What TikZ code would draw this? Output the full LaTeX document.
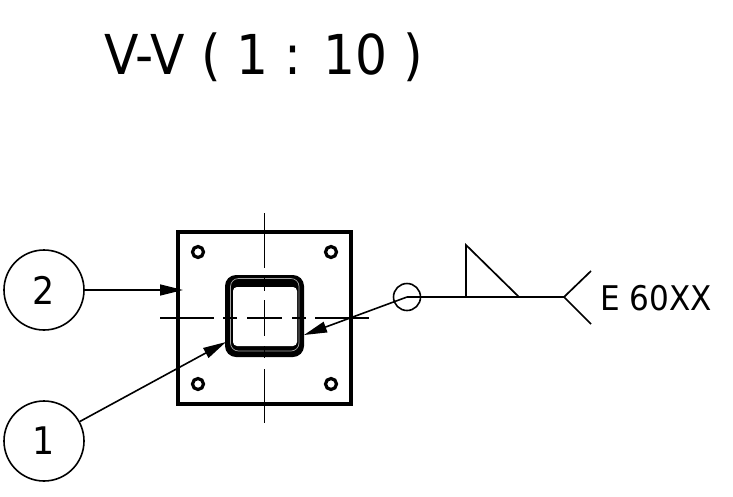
\documentclass[tikz,border=0pt]{standalone}
\usepackage{fontspec}
\setmainfont[FakeStretch=0.915]{DejaVu Sans}
\usetikzlibrary{arrows.meta}
\tikzset{
  x=1pt,y=-1pt,
  balloon/.style={draw,circle,line width=1.6pt,minimum size=80pt,inner sep=0pt,font=\fontsize{38}{38}\selectfont},
  leader/.style={line width=1.6pt,-{Triangle[length=23pt,width=11pt]}},
  plate/.style={line width=3.2pt},
  hole/.style={draw,circle,line width=3.2pt,minimum size=11pt,inner sep=0pt},
  centerline/.style={line width=1.4pt},
  weld/.style={line width=1.7pt},
  label/.style={inner sep=0pt,anchor=west}
}
\begin{document}
\begin{tikzpicture}
\useasboundingbox (0,0) rectangle (733,496);
% title
\node[label,font=\fontsize{55}{55}\selectfont] (title) at (104,57.5) {V-V ( 1 : 10 )};
% plate
\draw[plate] (178,232) rectangle (351,404);
\node[hole] (h1) at (198,252) {};
\node[hole] (h2) at (331,252) {};
\node[hole] (h3) at (198,384) {};
\node[hole] (h4) at (331,384) {};
% tube
\fill[rounded corners=11pt] (225,275) rectangle (304,357);
\fill[white,rounded corners=4pt] (233,287) rectangle (297,346);
\draw[gray!70,line width=.7pt,rounded corners=8pt] (230.5,278.5) rectangle (299,351);
% centre lines
\foreach \a/\b in {160/214,223/237,247/282,292/306,315/369}
  \draw[centerline] (\a,318) -- (\b,318);
\foreach \a/\b in {213/268,277/291,300/336,346/358,369/423}
  \draw[centerline] (264.5,\a) -- (264.5,\b);
% balloons
\node[balloon] (b2) at (44,290) {2};
\node[balloon] (b1) at (44,441) {1};
\coordinate (t2) at (183,290);
\coordinate (t1) at (226,342);
\coordinate (tw) at (304,335);
\coordinate (wj) at (407,297);
\draw[leader] (b2) -- (t2);
\draw[leader] (b1) -- (t1);
\draw[leader] (wj) -- (tw);
% weld symbol
\node[draw,circle,line width=1.6pt,minimum size=27pt,inner sep=0pt] (wc) at (wj) {};
\coordinate (t0) at (564,297);
\coordinate (ta) at (466,297);
\coordinate (tb) at (466,245);
\coordinate (tc) at (519,297);
\coordinate (fu) at (591,271);
\coordinate (fd) at (591,324);
\draw[weld] (wj) -- (t0);
\draw[weld] (ta) -- (tb) -- (tc);
\draw[weld] (fu) -- (t0) -- (fd);
\node[label,font=\fontsize{34}{34}\selectfont] (txt) at (600,298) {E 60XX};
\end{tikzpicture}
\end{document}
